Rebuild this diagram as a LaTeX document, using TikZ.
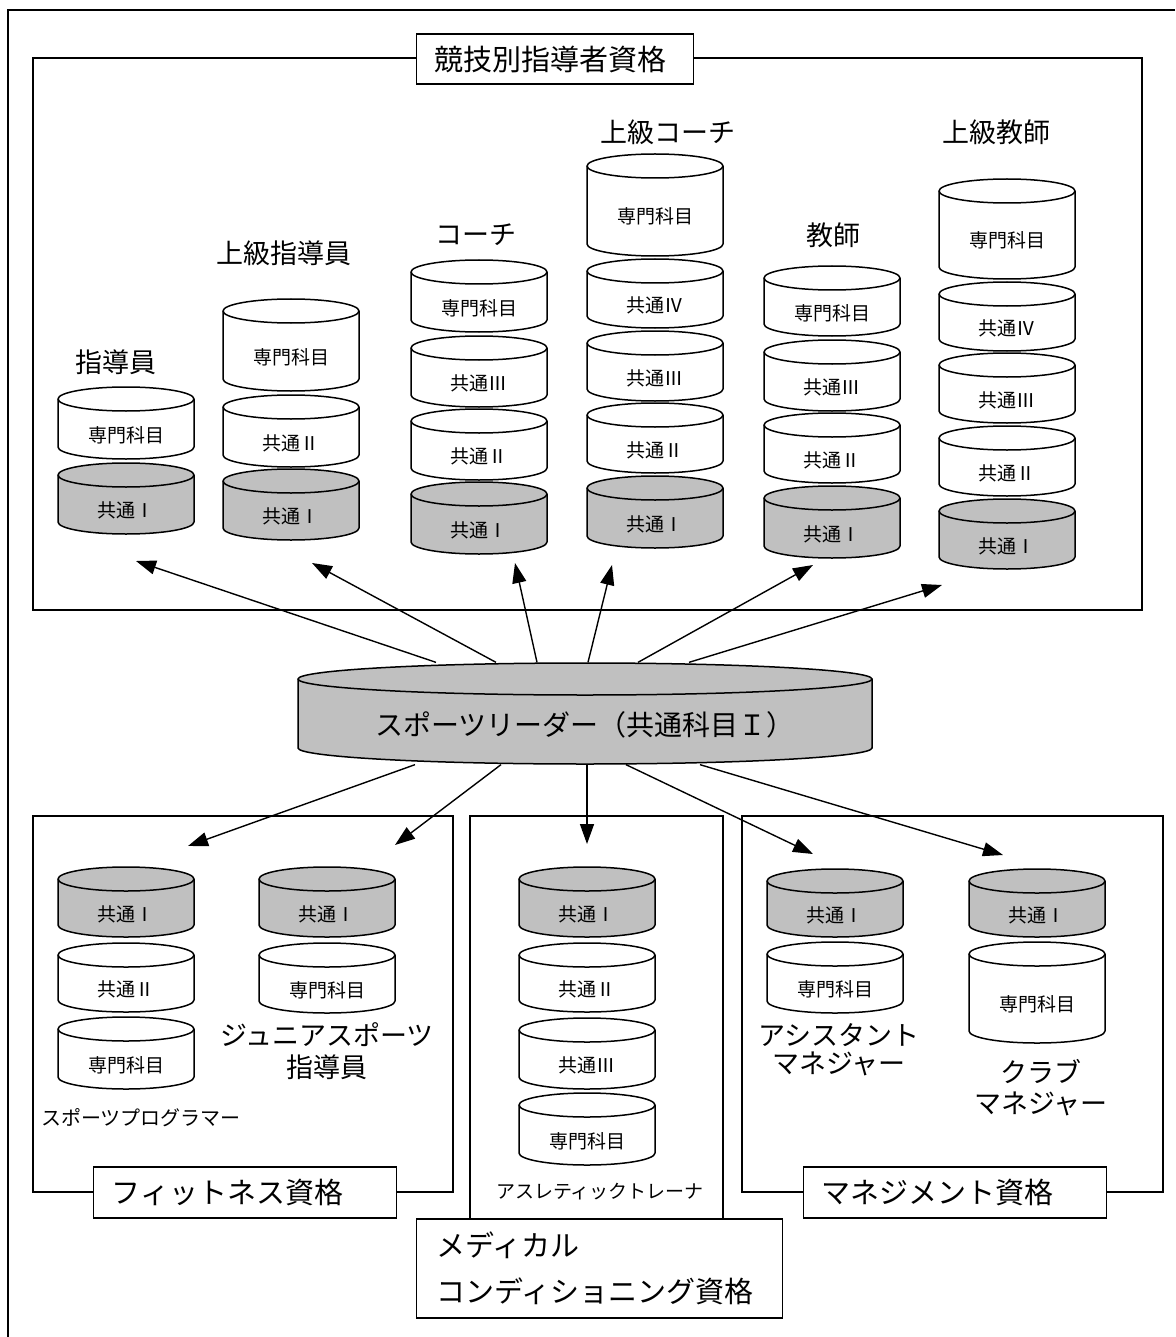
\documentclass[tikz,border=0pt]{standalone}
\usepackage{fontspec}
\newfontfamily\jpfont{Noto Sans CJK JP}
\usetikzlibrary{arrows.meta}
\definecolor{common}{RGB}{192,192,192}

% one course: [fill]{name}{x}{top}{height}{text}
\newcommand\course[6][white]{%
  \filldraw[fill=#1, cyl] (#3-68,#4+12) -- (#3-68,#4+#5-12)
    arc[start angle=180, end angle=360, x radius=68pt, y radius=12pt]
    -- (#3+68,#4+12)
    arc[start angle=0, end angle=180, x radius=68pt, y radius=12pt] -- cycle;
  \draw[cyl] (#3-68,#4+12)
    arc[start angle=180, end angle=360, x radius=68pt, y radius=12pt];
  \node[subj, minimum height=#5pt] (#2) at (#3,#4+#5/2) {#6};
}

\begin{document}
\begin{tikzpicture}[x=1pt, y=-1pt, line width=1.3pt,
  cyl/.style={line width=1.5pt},
  subj/.style={inner sep=0pt, minimum width=136pt, text height=38pt, text depth=0pt,
    font=\jpfont\fontsize{19}{21}\selectfont},
  head/.style={inner sep=0pt, align=center, font=\jpfont\fontsize{27}{32}\selectfont},
  small/.style={inner sep=0pt, font=\jpfont\fontsize{20}{24}\selectfont},
  tagbox/.style={draw, fill=white, anchor=west, inner xsep=18pt, align=left,
    minimum height=51pt, font=\jpfont\fontsize{29}{34}\selectfont},
  arr/.style={-{Triangle[length=20pt,width=14pt]}, line width=1.4pt}]
\useasboundingbox (0,0) rectangle (1175,1337);

% frames
\draw (1175,10) -- (8,10) -- (8,1337);
\draw (33,58) rectangle (1142,610);
\draw (33,816) rectangle (453,1192);
\draw (470,816) rectangle (723,1219);
\draw (742,816) rectangle (1163,1192);

\node[tagbox, text width=241pt, minimum height=50pt] (title) at (416,59) {競技別指導者資格};
\node[tagbox, text width=267pt] (fitness) at (93,1192.5) {フィットネス資格};
\node[tagbox, text width=267pt] (mgmt) at (803,1192.5) {マネジメント資格};
\node[tagbox, text width=326pt, inner xsep=20pt, minimum height=99pt,
  font=\jpfont\fontsize{29}{46}\selectfont] (medical) at (416,1268.5)
  {メディカル\\コンディショニング資格};

% coach qualifications
\node[head] (hShido) at (116,362) {指導員};
\course{shidoS}{126}{387}{72}{専門科目}
\course[common]{shido1}{126}{463}{71}{共通Ⅰ}

\node[head] (hJShido) at (284,253) {上級指導員};
\course{jshidoS}{291}{299}{92}{専門科目}
\course{jshido2}{291}{395}{72}{共通Ⅱ}
\course[common]{jshido1}{291}{469}{71}{共通Ⅰ}

\node[head] (hCoach) at (476,235) {コーチ};
\course{coachS}{479}{260}{72}{専門科目}
\course{coach3}{479}{336}{71}{共通Ⅲ}
\course{coach2}{479}{409}{71}{共通Ⅱ}
\course[common]{coach1}{479}{482}{72}{共通Ⅰ}

\node[head] (hJCoach) at (668,132) {上級コーチ};
\course{jcoachS}{655}{154}{102}{専門科目}
\course{jcoach4}{655}{259}{69}{共通Ⅳ}
\course{jcoach3}{655}{331}{70}{共通Ⅲ}
\course{jcoach2}{655}{403}{70}{共通Ⅱ}
\course[common]{jcoach1}{655}{476}{72}{共通Ⅰ}

\node[head] (hKyoshi) at (833,235) {教師};
\course{kyoshiS}{832}{266}{70}{専門科目}
\course{kyoshi3}{832}{340}{71}{共通Ⅲ}
\course{kyoshi2}{832}{413}{70}{共通Ⅱ}
\course[common]{kyoshi1}{832}{486}{72}{共通Ⅰ}

\node[head] (hJKyoshi) at (996,132) {上級教師};
\course{jkyoshiS}{1007}{179}{100}{専門科目}
\course{jkyoshi4}{1007}{282}{69}{共通Ⅳ}
\course{jkyoshi3}{1007}{353}{70}{共通Ⅲ}
\course{jkyoshi2}{1007}{426}{70}{共通Ⅱ}
\course[common]{jkyoshi1}{1007}{499}{70}{共通Ⅰ}

% sports leader
\filldraw[fill=common, cyl] (298,679) -- (298,748)
  arc[start angle=180, end angle=360, x radius=287pt, y radius=16pt]
  -- (872,679)
  arc[start angle=0, end angle=180, x radius=287pt, y radius=16pt] -- cycle;
\draw[cyl] (298,679) arc[start angle=180, end angle=360, x radius=287pt, y radius=16pt];
\node[inner sep=0pt, minimum width=574pt, minimum height=101pt, text height=44pt,
  text depth=0pt, font=\jpfont\fontsize{28}{30}\selectfont] (leader) at (585,713.5)
  {スポーツリーダー（共通科目Ｉ）};

% fitness
\course[common]{prog1}{126}{867}{70}{共通Ⅰ}
\course{prog2}{126}{943}{69}{共通Ⅱ}
\course{progS}{126}{1017}{72}{専門科目}
\node[small] (lProg) at (141,1118) {スポーツプログラマー};

\course[common]{junior1}{327}{867}{70}{共通Ⅰ}
\course{juniorS}{327}{943}{70}{専門科目}
\node[head] (lJunior) at (327,1051) {ジュニアスポーツ\\指導員};

% medical conditioning
\course[common]{trainer1}{587}{867}{70}{共通Ⅰ}
\course{trainer2}{587}{943}{69}{共通Ⅱ}
\course{trainer3}{587}{1018}{71}{共通Ⅲ}
\course{trainerS}{587}{1093}{72}{専門科目}
\node[small, font=\jpfont\fontsize{19}{22}\selectfont] (lTrainer) at (600,1192) {アスレティックトレーナ};

% management
\course[common]{asst1}{835}{869}{68}{共通Ⅰ}
\course{asstS}{835}{942}{71}{専門科目}
\node[head, font=\jpfont\fontsize{27}{28}\selectfont] (lAsst) at (839,1050) {アシスタント\\マネジャー};

\course[common]{club1}{1037}{869}{68}{共通Ⅰ}
\course{clubS}{1037}{942}{101}{専門科目}
\node[head, font=\jpfont\fontsize{27}{31}\selectfont] (lClub) at (1041,1088) {クラブ\\マネジャー};

% arrow ends
\coordinate (toShido) at (136,561);
\coordinate (toJShido) at (312,563);
\coordinate (toCoach) at (515,563);
\coordinate (toJCoach) at (612,565);
\coordinate (toKyoshi) at (813,565);
\coordinate (toJKyoshi) at (942,585);
\coordinate (toProg) at (188,846);
\coordinate (toJunior) at (395,845);
\coordinate (toTrainer) at (587,844);
\coordinate (toAsst) at (813,854);
\coordinate (toClub) at (1003,855);

\foreach \dx/\tgt in {-149/toShido, -89/toJShido, -48/toCoach, 3/toJCoach,
    53/toKyoshi, 104/toJKyoshi}
  \draw[arr] ([xshift=\dx pt]leader.north) -- (\tgt);
\foreach \dx/\tgt in {-170/toProg, -84/toJunior, 2/toTrainer, 41/toAsst, 115/toClub}
  \draw[arr] ([xshift=\dx pt]leader.south) -- (\tgt);
\end{tikzpicture}
\end{document}
